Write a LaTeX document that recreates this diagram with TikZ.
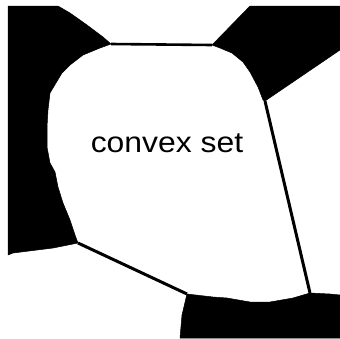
\documentclass[tikz,border=0pt]{standalone}
\usepackage{fontspec}
\setmainfont{Liberation Sans}
\usetikzlibrary{positioning}

\begin{document}
\begin{tikzpicture}[x=1pt, y=-1pt,
        region/.style={fill=black, draw=black, line width=0.5pt, line join=round},
        edge/.style={draw=black, line width=3pt},
        label/.style={font=\fontsize{29}{30}\selectfont, xscale=1.1, inner sep=0pt}
    ]
        \useasboundingbox (0,0) rectangle (340,338);

        % Corners where the edges meet the regions
        \coordinate (tl) at (111,44);
        \coordinate (tr) at (212,45);
        \coordinate (rt) at (265,101);
        \coordinate (rb) at (310,293);
        \coordinate (bl) at (187,294);
        \coordinate (lb) at (78,243);

        % Region top left
        \fill[region] (8,6) -- (58,6) -- (70,13) -- (87,25) -- (103,37) -- (tl)
            -- (100,48) -- (83,55) -- (70,65) -- (62,73) -- (53,88) -- (50,93)
            -- (48,110) -- (47,127) -- (47,147) -- (50,163) -- (55,172)
            -- (58,187) -- (63,203) -- (70,220) -- (75,235) -- (lb)
            -- (53,248) -- (13,253) -- (8,255) -- cycle;

        % Region top right
        \fill[region] (250,6) -- (340,6) -- (340,50) -- (rt)
            -- (263,100) -- (258,87) -- (250,72) -- (243,62) -- (232,53)
            -- (220,48) -- (tr) -- cycle;

        % Region bottom
        \fill[region] (bl) -- (213,297) -- (227,298) -- (250,302) -- (270,302)
            -- (293,298) -- (rb) -- (330,294) -- (340,295) -- (340,338)
            -- (180,338) -- (182,315) -- cycle;

        % Edges of the set
        \draw[edge, line width=2.6pt] (tl) -- (tr);
        \draw[edge] (rt) -- (rb);
        \draw[edge] (lb) -- (bl);

        % Label
        \node[label, anchor=base] (setlabel) at (167,152) {convex set};
    \end{tikzpicture}
\end{document}
